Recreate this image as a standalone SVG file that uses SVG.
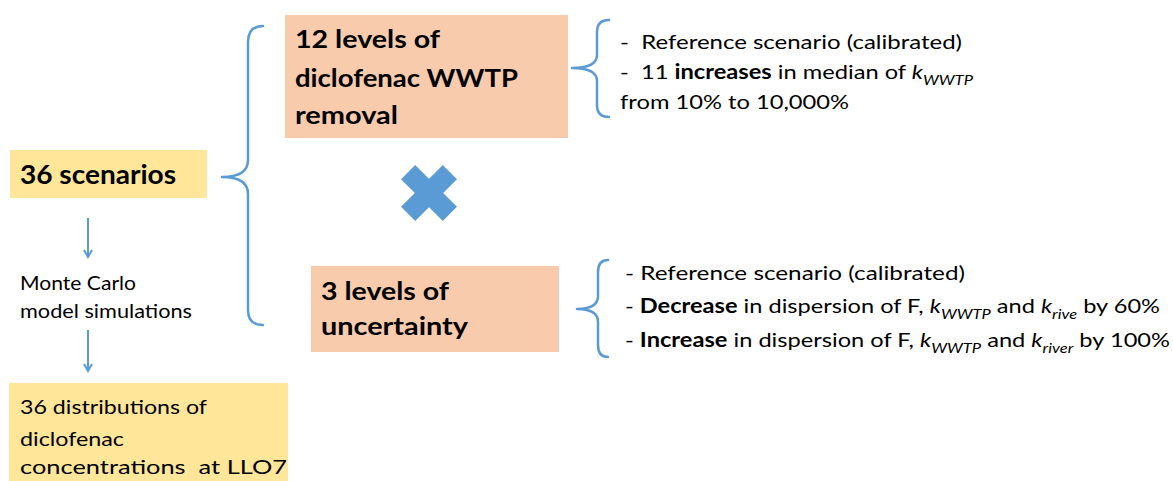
<svg xmlns="http://www.w3.org/2000/svg" width="1173" height="481" viewBox="0 0 1173 481">
<style>
.t{font-family:Lato,"Liberation Sans",sans-serif;fill:#000}
.h{font-family:Lato,"Liberation Sans",sans-serif;font-weight:bold;fill:#000}
.br{fill:none;stroke:#5B9BD5;stroke-width:2.5;stroke-linecap:round;stroke-linejoin:round}
.ar{fill:none;stroke:#5B9BD5;stroke-width:2}
.y{fill:#FFE699}
.o{fill:#F8CBAD}
</style>
<defs>
<marker id="ah" markerWidth="10" markerHeight="10" refX="8" refY="5" orient="auto" markerUnits="userSpaceOnUse">
<path d="M1,1 L8,5 L1,9" fill="none" stroke="#5B9BD5" stroke-width="2"/>
</marker>
</defs>
<rect width="1173" height="481" fill="#fff"/>
<g id="scenarios">
<rect class="y" x="10" y="150" width="197" height="48"/>
<text class="h" x="20" y="184" font-size="26" textLength="156" lengthAdjust="spacingAndGlyphs">36 scenarios</text>
</g>
<g id="montecarlo">
<text class="t" x="20" y="290" font-size="19" textLength="116" lengthAdjust="spacingAndGlyphs">Monte Carlo</text>
<text class="t" x="20" y="318" font-size="19" textLength="172" lengthAdjust="spacingAndGlyphs">model simulations</text>
</g>
<g id="distributions">
<rect class="y" x="9" y="383" width="279" height="98"/>
<text class="t" x="20" y="414" font-size="20" textLength="187" lengthAdjust="spacingAndGlyphs">36 distributions of</text>
<text class="t" x="20" y="446" font-size="20" textLength="104" lengthAdjust="spacingAndGlyphs">diclofenac</text>
<text class="t" x="20" y="474" font-size="20" textLength="267" lengthAdjust="spacingAndGlyphs">concentrations&#160; at LLO7</text>
</g>
<g id="wwtp">
<rect class="o" x="285" y="15" width="283" height="123"/>
<text class="h" x="295" y="48" font-size="25" textLength="145" lengthAdjust="spacingAndGlyphs">12 levels of</text>
<text class="h" x="295" y="87" font-size="25" textLength="223" lengthAdjust="spacingAndGlyphs">diclofenac WWTP</text>
<text class="h" x="295" y="124" font-size="25" textLength="103" lengthAdjust="spacingAndGlyphs">removal</text>
</g>
<g id="cross">
<rect x="399.500" y="183" width="59" height="20" fill="#5B9BD5" transform="rotate(45 429 193)"/>
<rect x="399.500" y="183" width="59" height="20" fill="#5B9BD5" transform="rotate(-45 429 193)"/>
</g>
<g id="uncertainty">
<rect class="o" x="311" y="266" width="248" height="86"/>
<text class="h" x="321" y="300" font-size="25" textLength="128" lengthAdjust="spacingAndGlyphs">3 levels of</text>
<text class="h" x="321" y="335" font-size="25" textLength="147" lengthAdjust="spacingAndGlyphs">uncertainty</text>
</g>
<g id="wwtp-details">
<text class="t" x="620" y="49" font-size="20" textLength="342" lengthAdjust="spacingAndGlyphs">-&#160; Reference scenario (calibrated)</text>
<text class="t" x="620" y="79" font-size="20" textLength="353" lengthAdjust="spacingAndGlyphs">-&#160; 11 <tspan font-weight="bold">increases</tspan> in median of <tspan font-style="italic">k</tspan><tspan font-style="italic" font-size="14" dy="6">WWTP</tspan></text>
<text class="t" x="620" y="109" font-size="20" textLength="229" lengthAdjust="spacingAndGlyphs">from 10% to 10,000%</text>
</g>
<g id="uncertainty-details">
<text class="t" x="625" y="280" font-size="20" textLength="340" lengthAdjust="spacingAndGlyphs">- Reference scenario (calibrated)</text>
<text class="t" x="625" y="313" font-size="20" textLength="535" lengthAdjust="spacingAndGlyphs">- <tspan font-weight="bold">Decrease</tspan> in dispersion of F, <tspan font-style="italic">k</tspan><tspan font-style="italic" font-size="14" dy="6">WWTP</tspan><tspan dy="-6"> and </tspan><tspan font-style="italic">k</tspan><tspan font-style="italic" font-size="14" dy="6">rive</tspan><tspan dy="-6"> by 60%</tspan></text>
<text class="t" x="625" y="347" font-size="20" textLength="545" lengthAdjust="spacingAndGlyphs">- <tspan font-weight="bold">Increase</tspan> in dispersion of F, <tspan font-style="italic">k</tspan><tspan font-style="italic" font-size="14" dy="6">WWTP</tspan><tspan dy="-6"> and </tspan><tspan font-style="italic">k</tspan><tspan font-style="italic" font-size="14" dy="6">river</tspan><tspan dy="-6"> by 100%</tspan></text>
</g>
<g id="connectors">
<path class="br" d="M263,26 Q248,26 248,42 V160 Q248,177 222,177 Q248,177 248,194 V310 Q248,325 263,325"/>
<path class="br" d="M609,20 Q597,20 597,32 V55 Q597,68 572,68 Q597,68 597,81 V105 Q597,117 609,117"/>
<path class="br" d="M608,260 Q598,260 598,272 V296 Q598,309 577,309 Q598,309 598,322 V345 Q598,357 608,357"/>
<line class="ar" x1="88" y1="218" x2="88" y2="257" marker-end="url(#ah)"/>
<line class="ar" x1="88" y1="330" x2="88" y2="371" marker-end="url(#ah)"/>
</g>
</svg>
